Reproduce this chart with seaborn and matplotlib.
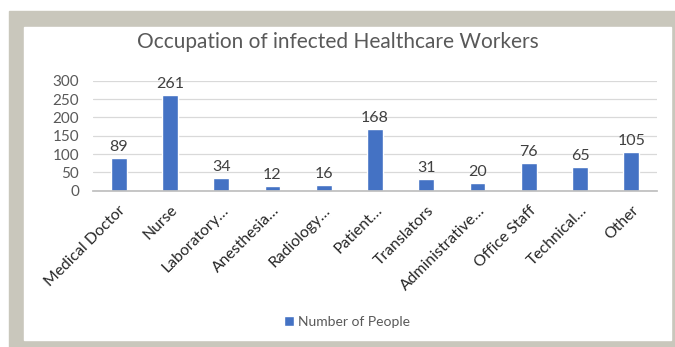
import pandas as pd
import matplotlib
matplotlib.use("Agg")
import matplotlib.pyplot as plt
from matplotlib.patches import Rectangle
import seaborn as sns

# ── Data ─────────────────────────────────────────────────
occupations = ["Medical Doctor", "Nurse", "Laboratory…", "Anesthesia…", "Radiology…",
               "Patient…", "Translators", "Administrative…", "Office Staff",
               "Technical…", "Other"]
people = [89, 261, 34, 12, 16, 168, 31, 20, 76, 65, 105]
y_ticks = [0, 50, 100, 150, 200, 250, 300]

df = pd.DataFrame({"Occupation": occupations, "Number of People": people})

# ── Style ─────────────────────────────────────────────────
sns.set_theme(style="white")
plt.rcParams["font.family"] = ["Lato", "DejaVu Sans"]
BLUE = "#4472C4"
TXT = "#595959"
FRAME = "#C9C7BC"

fig = plt.figure(figsize=(6.75, 3.47), dpi=100)
# gray frame + white panel (drawn under the axes)
fig.patches.append(Rectangle((9 / 675, 0), 1, 1 - 11 / 347, transform=fig.transFigure,
                             color=FRAME, zorder=-2))
fig.patches.append(Rectangle((24 / 675, 7 / 347), (671 - 24) / 675, (340 - 27) / 347,
                             transform=fig.transFigure, color="white", zorder=-1))

ax = fig.add_axes([93 / 675, 1 - 190.7 / 347, (657 - 93) / 675, 110 / 347])
ax.patch.set_alpha(0)
sns.barplot(data=df, x="Occupation", y="Number of People", color=BLUE, width=0.31,
            ax=ax, label="Number of People", saturation=1)
ax.bar_label(ax.containers[0], padding=3, fontsize=11.5, color="#404040")

ax.set_ylim(0, 300)
ax.set_yticks(y_ticks)
ax.set_xlim(-0.5, len(occupations) - 0.5)
ax.yaxis.grid(True, color="#D9D9D9", lw=0.9)
ax.set_axisbelow(True)
for s in ["top", "right", "left"]:
    ax.spines[s].set_visible(False)
ax.spines["bottom"].set_color("#BFBFBF")
ax.tick_params(axis="y", length=0, labelsize=11, labelcolor=TXT, pad=10)
ax.tick_params(axis="x", length=0, labelsize=11.3, labelcolor="#262626", pad=9)
plt.setp(ax.get_xticklabels(), rotation=45, ha="right", rotation_mode="anchor")
ax.set_xlabel("")
ax.set_ylabel("")

fig.text(0.5, 1 - 42 / 347, "Occupation of infected Healthcare Workers",
         ha="center", va="center", fontsize=15, color=TXT)

handles, labels = ax.get_legend_handles_labels()
leg = fig.legend(handles, labels, loc="center", bbox_to_anchor=(347 / 675, 1 - 322 / 347),
                 frameon=False, fontsize=10, handlelength=0.7, handleheight=0.7,
                 handletextpad=0.3, labelcolor=TXT)
if ax.get_legend():
    ax.get_legend().remove()

fig.savefig("out.png", dpi=100)
plt.close(fig)
